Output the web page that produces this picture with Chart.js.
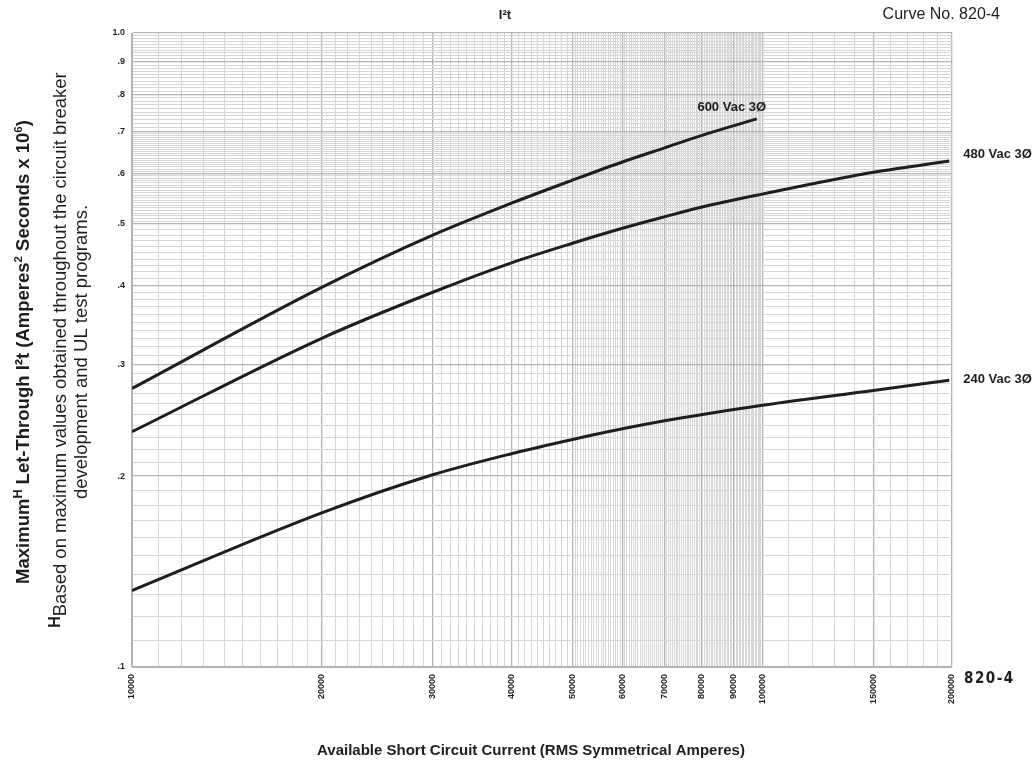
<!DOCTYPE html>
<html>
<head>
<meta charset="utf-8">
<script src="https://cdn.jsdelivr.net/npm/chart.js@4.4.1/dist/chart.umd.min.js"></script>
<style>
  html, body { margin: 0; background: #fff; }
  #wrap { width: 1034px; height: 765px; position: relative; }
</style>
</head>
<body>
<div id="wrap"><canvas id="chart"></canvas></div>
<script>
// Values (amperes, I2t x 10^6)
const current600 = [10000, 20000, 30000, 40000, 50000, 60000, 70000, 80000, 98000];
const letThrough600 = [0.275, 0.397, 0.480, 0.539, 0.586, 0.626, 0.659, 0.689, 0.732];
const current480 = [10000, 20000, 30000, 40000, 50000, 60000, 70000, 80000, 100000, 150000, 198000];
const letThrough480 = [0.235, 0.330, 0.390, 0.434, 0.466, 0.492, 0.513, 0.531, 0.557, 0.603, 0.628];
const current240 = [10000, 20000, 30000, 40000, 50000, 60000, 70000, 80000, 100000, 150000, 198000];
const letThrough240 = [0.132, 0.175, 0.201, 0.217, 0.2285, 0.2375, 0.2445, 0.250, 0.2587, 0.273, 0.2833];
const seriesNames = ['600 Vac 3Ø', '480 Vac 3Ø', '240 Vac 3Ø'];

const xTickLabels = [10000, 20000, 30000, 40000, 50000, 60000, 70000, 80000, 90000, 100000, 150000, 200000];
const yTickValues = [0.1, 0.2, 0.3, 0.4, 0.5, 0.6, 0.7, 0.8, 0.9, 1.0];
const yTickLabels = ['.1', '.2', '.3', '.4', '.5', '.6', '.7', '.8', '.9', '1.0'];

const FONT = '"Liberation Sans", Arial, Helvetica, sans-serif';
const INK = '#1e1e1e';

// log paper grid lines
function xGridValues() {
  const v = [];
  for (let i = 10000; i < 50000; i += 1000) v.push(i);
  for (let i = 50000; i < 100000; i += 500) v.push(i);
  for (let i = 100000; i <= 200000; i += 10000) v.push(i);
  return v;
}
function yGridValues() {
  const v = [];
  for (let i = 100; i < 500; i += 10) v.push(i / 1000);
  for (let i = 500; i < 700; i += 5) v.push(i / 1000);
  for (let i = 700; i <= 1000; i += 10) v.push(i / 1000);
  return v;
}
function isMajorY(v) {
  return Math.abs(v * 10 - Math.round(v * 10)) < 1e-6;
}

function toPoints(xs, ys) {
  return xs.map((x, i) => ({ x: x, y: ys[i] }));
}

function curve(xs, ys) {
  return {
    data: toPoints(xs, ys),
    borderColor: INK,
    borderWidth: 3,
    pointRadius: 0,
    fill: false,
    cubicInterpolationMode: 'monotone'
  };
}

function drawRuns(ctx, runs, x, y, align) {
  let total = 0;
  runs.forEach(r => { ctx.font = r.font; r.w = ctx.measureText(r.text).width; total += r.w; });
  let cx = align === 'center' ? x - total / 2 : x;
  ctx.textAlign = 'left';
  runs.forEach(r => {
    ctx.font = r.font;
    ctx.fillText(r.text, cx, y - (r.rise || 0));
    cx += r.w;
  });
}

const sheetText = {
  id: 'sheetText',
  afterDraw(chart) {
    const ctx = chart.ctx;
    const xs = chart.scales.x, ys = chart.scales.y;
    ctx.save();
    ctx.fillStyle = INK;
    ctx.textBaseline = 'alphabetic';

    // curve labels
    ctx.font = 'bold 13px ' + FONT;
    const ends = [
      [current600, letThrough600],
      [current480, letThrough480],
      [current240, letThrough240]
    ].map(s => ({
      x: xs.getPixelForValue(s[0][s[0].length - 1]),
      y: ys.getPixelForValue(s[1][s[1].length - 1])
    }));
    ctx.textAlign = 'center';
    ctx.fillText(seriesNames[0], ends[0].x - 25, ends[0].y - 8);
    ctx.textAlign = 'left';
    ctx.fillText(seriesNames[1], ends[1].x + 14, ends[1].y - 3);
    ctx.fillText(seriesNames[2], ends[2].x + 14, ends[2].y + 3);

    // header
    ctx.textAlign = 'center';
    ctx.font = 'bold 13px ' + FONT;
    ctx.fillText('I²t', 505, 19);
    ctx.textAlign = 'right';
    ctx.font = '16px ' + FONT;
    ctx.fillText('Curve No. 820-4', 1000, 19);

    // sheet number by the axis
    ctx.textAlign = 'left';
    ctx.font = 'bold 15px "Liberation Sans Narrow", "DejaVu Sans Condensed", ' + FONT;
    let sx = 964;
    for (const ch of '820-4') {
      ctx.fillText(ch, sx, 683);
      sx += ctx.measureText(ch).width + 1.5;
    }

    // x axis title
    ctx.textAlign = 'center';
    ctx.font = 'bold 15px ' + FONT;
    ctx.fillText('Available Short Circuit Current (RMS Symmetrical Amperes)', 531, 755);

    // y axis titles
    const b18 = 'bold 18.5px ' + FONT, b11 = 'bold 11.5px ' + FONT, r18 = '18.5px ' + FONT;
    ctx.save();
    ctx.translate(29, 352);
    ctx.rotate(-Math.PI / 2);
    drawRuns(ctx, [
      { text: 'Maximum', font: b18 },
      { text: 'H', font: 'bold 12.5px ' + FONT, rise: 7 },
      { text: ' Let-Through I²t (Amperes', font: b18 },
      { text: '2', font: b11, rise: 7 },
      { text: ' Seconds x 10', font: b18 },
      { text: '6', font: b11, rise: 7 },
      { text: ')', font: b18 }
    ], 0, 0, 'center');
    ctx.restore();

    ctx.save();
    ctx.translate(66, 350);
    ctx.rotate(-Math.PI / 2);
    drawRuns(ctx, [
      { text: 'H', font: 'bold 16px ' + FONT, rise: 6 },
      { text: 'Based on maximum values obtained throughout the circuit breaker', font: r18 }
    ], 0, 0, 'center');
    ctx.restore();

    ctx.save();
    ctx.translate(87, 352);
    ctx.rotate(-Math.PI / 2);
    drawRuns(ctx, [{ text: 'development and UL test programs.', font: r18 }], 0, 0, 'center');
    ctx.restore();

    ctx.restore();
  }
};

new Chart(document.getElementById('chart'), {
  type: 'line',
  data: {
    datasets: [
      curve(current600, letThrough600),
      curve(current480, letThrough480),
      curve(current240, letThrough240)
    ]
  },
  options: {
    responsive: true,
    maintainAspectRatio: false,
    animation: false,
    layout: { padding: { top: 33, right: 82, bottom: 0, left: 0 } },
    plugins: { legend: { display: false }, tooltip: { enabled: false } },
    scales: {
      x: {
        type: 'logarithmic',
        min: 10000,
        max: 200000,
        afterBuildTicks: s => { s.ticks = xGridValues().map(v => ({ value: v })); },
        afterFit: s => { s.height = 98; },
        grid: {
          drawTicks: false,
          color: c => xTickLabels.includes(c.tick && c.tick.value) ? '#b4b4b4' : '#d6d6d6',
          lineWidth: c => xTickLabels.includes(c.tick && c.tick.value) ? 1.3 : 1
        },
        border: { color: '#b4b4b4' },
        ticks: {
          autoSkip: false,
          minRotation: 90,
          maxRotation: 90,
          padding: 7,
          color: INK,
          font: { family: FONT, size: 9, weight: 'bold' },
          callback: v => xTickLabels.includes(v) ? String(v) : ''
        }
      },
      y: {
        type: 'logarithmic',
        min: 0.1,
        max: 1.0,
        afterBuildTicks: s => { s.ticks = yGridValues().map(v => ({ value: v })); },
        afterFit: s => { s.width = 132; },
        grid: {
          drawTicks: false,
          color: c => c.tick && isMajorY(c.tick.value) ? '#b4b4b4' : '#d6d6d6',
          lineWidth: c => c.tick && isMajorY(c.tick.value) ? 1.3 : 1
        },
        border: { color: '#b4b4b4' },
        ticks: {
          autoSkip: false,
          padding: 7,
          color: INK,
          font: { family: FONT, size: 9, weight: 'bold' },
          callback: v => {
            const i = yTickValues.findIndex(t => Math.abs(t - v) < 1e-6);
            return i >= 0 ? yTickLabels[i] : '';
          }
        }
      }
    }
  },
  plugins: [sheetText]
});
</script>
</body>
</html>
